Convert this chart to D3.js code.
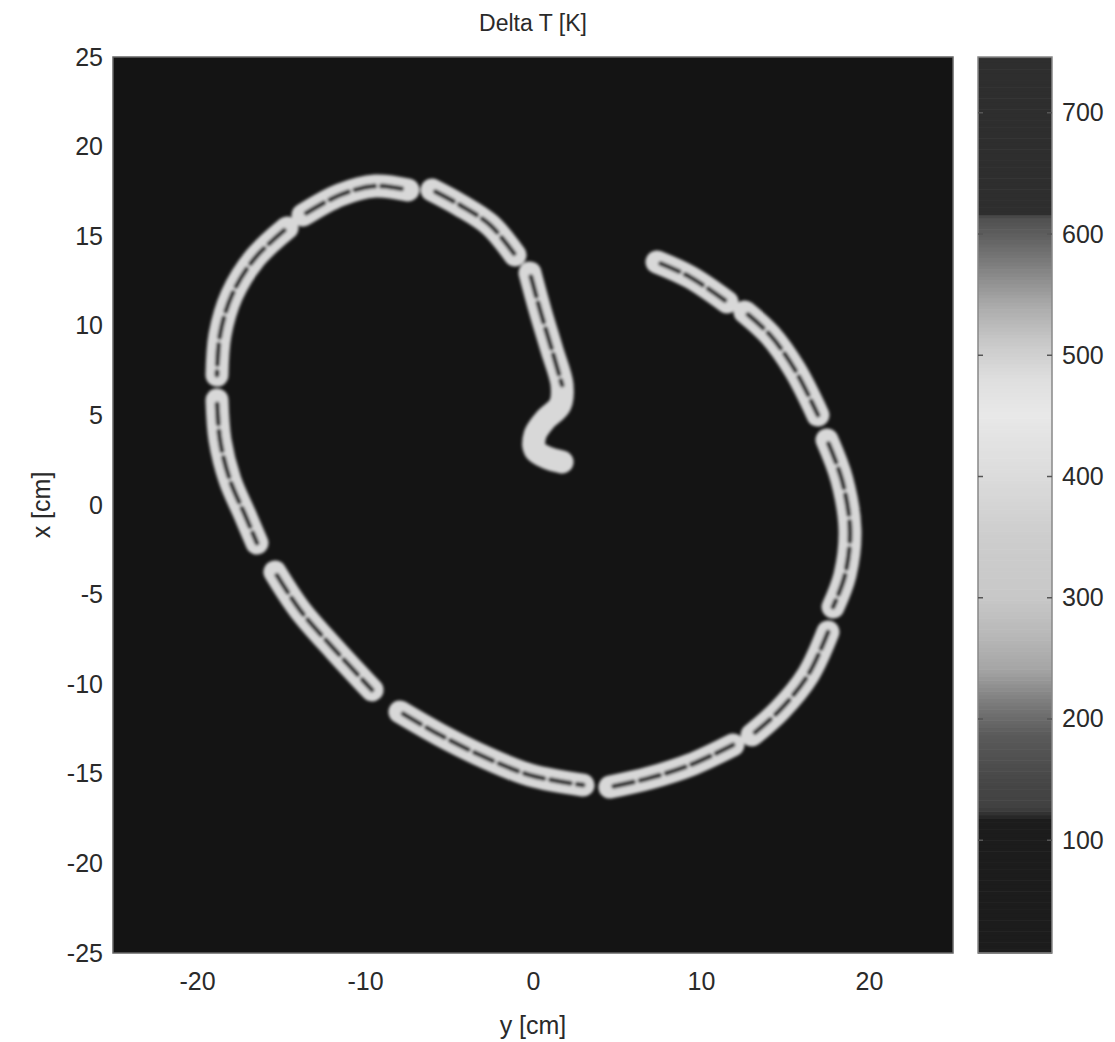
<!DOCTYPE html>
<html>
<head>
<meta charset="utf-8">
<script src="https://cdn.jsdelivr.net/npm/d3@7"></script>
<style>
  body { margin: 0; background: #fff; }
  text { font-family: "Liberation Sans", Arial, sans-serif; fill: #2a2a2a; }
</style>
</head>
<body>
<div id="chart"></div>
<script>
// Axis ticks (cm)
var xTicks = [-20, -10, 0, 10, 20];
var yTicks = [25, 20, 15, 10, 5, 0, -5, -10, -15, -20, -25];
var cbTicks = [100, 200, 300, 400, 500, 600, 700];
var cbDomain = [7, 746];

// Colormap stops: [Delta T, gray level]
var cmapValues = [7, 115, 125, 150, 185, 210, 240, 270, 300, 350, 400, 450, 480, 510, 540, 570, 600, 612, 616, 746];
var cmapGray   = [28, 28, 64, 72, 90, 120, 165, 185, 200, 205, 220, 232, 222, 200, 170, 130, 92, 80, 46, 46];

// Spiral segments, points as [y cm, x cm]
var seg1  = [[-0.18, 12.95], [0.42, 10.88], [1.13, 8.65], [1.73, 6.70], [1.61, 5.58], [0.71, 4.74], [0.12, 3.91], [0.12, 3.07], [0.89, 2.62], [1.73, 2.40]];
var seg2  = [[-6.01, 17.58], [-4.35, 16.74], [-2.56, 15.63], [-1.07, 13.95]];
var seg3  = [[-13.69, 16.18], [-11.49, 17.30], [-9.40, 17.80], [-7.44, 17.58]];
var seg4  = [[-14.64, 15.46], [-16.55, 13.78], [-17.92, 11.72], [-18.63, 9.49], [-18.81, 7.25]];
var seg5  = [[-18.81, 5.86], [-18.63, 3.63], [-18.04, 1.40], [-17.14, -0.56], [-16.43, -2.12]];
var seg6  = [[-15.36, -3.74], [-13.87, -5.86], [-11.79, -8.09], [-9.58, -10.32]];
var seg7  = [[-7.92, -11.55], [-5.54, -12.83], [-3.15, -13.95], [-0.18, -15.07], [2.98, -15.63]];
var seg8  = [[4.58, -15.74], [6.96, -15.23], [9.35, -14.51], [11.90, -13.39]];
var seg9  = [[13.04, -12.83], [14.70, -11.44], [16.37, -9.49], [17.56, -7.09]];
var seg10 = [[17.50, 3.63], [18.39, 1.40], [18.87, -1.40], [18.57, -3.91], [17.86, -5.69]];
var seg11 = [[12.62, 10.77], [14.11, 9.49], [15.60, 7.53], [16.96, 5.02]];
var seg12 = [[7.38, 13.56], [9.35, 12.72], [11.55, 11.33]];
var segments = [seg1, seg2, seg3, seg4, seg5, seg6, seg7, seg8, seg9, seg10, seg11, seg12];
// how many leading points of each segment carry the dark dashed core
var coreLength = [4, 4, 4, 5, 5, 4, 5, 4, 4, 5, 4, 3];

var width = 1115, height = 1042;
var plot = { left: 113, right: 953, top: 57, bottom: 953 };
var cb = { left: 978, right: 1052 };
var fontSize = "25px";

var svg = d3.select("#chart").append("svg")
  .attr("width", width)
  .attr("height", height);

var defs = svg.append("defs");
defs.append("filter").attr("id", "soft")
  .attr("x", "-10%").attr("y", "-10%").attr("width", "120%").attr("height", "120%")
  .append("feGaussianBlur").attr("stdDeviation", 1.7);
defs.append("clipPath").attr("id", "plotclip")
  .append("rect")
  .attr("x", plot.left).attr("y", plot.top)
  .attr("width", plot.right - plot.left).attr("height", plot.bottom - plot.top);

var xScale = d3.scaleLinear().domain([-25, 25]).range([plot.left, plot.right]);
var yScale = d3.scaleLinear().domain([-25, 25]).range([plot.bottom, plot.top]);

// background = lowest colour of the map
svg.append("rect")
  .attr("x", plot.left).attr("y", plot.top)
  .attr("width", plot.right - plot.left).attr("height", plot.bottom - plot.top)
  .attr("fill", "#141414");

var line = d3.line()
  .x(d => xScale(d[0]))
  .y(d => yScale(d[1]))
  .curve(d3.curveCatmullRom.alpha(0.5));

var g = svg.append("g").attr("clip-path", "url(#plotclip)")
  .append("g").attr("filter", "url(#soft)");

g.selectAll("path.outer")
  .data(segments)
  .enter().append("path")
  .attr("class", "outer")
  .attr("d", line)
  .attr("fill", "none")
  .attr("stroke", "#d8d8d8")
  .attr("stroke-width", 23)
  .attr("stroke-linecap", "round")
  .attr("stroke-linejoin", "round");

g.selectAll("path.core")
  .data(segments)
  .enter().append("path")
  .attr("class", "core")
  .attr("d", (d, i) => line(d.slice(0, coreLength[i])))
  .attr("fill", "none")
  .attr("stroke", "#333")
  .attr("stroke-width", 5)
  .attr("stroke-dasharray", "20 7")
  .attr("stroke-dashoffset", -4)
  .attr("stroke-linecap", "round");

// plot frame
svg.append("rect")
  .attr("x", plot.left).attr("y", plot.top)
  .attr("width", plot.right - plot.left).attr("height", plot.bottom - plot.top)
  .attr("fill", "none").attr("stroke", "#666").attr("stroke-width", 1.5);

var fmt = d => String(d);

// axes
var xAxis = d3.axisBottom(xScale).tickValues(xTicks).tickSize(0).tickPadding(19).tickFormat(fmt);
var gx = svg.append("g").attr("transform", "translate(0," + plot.bottom + ")").call(xAxis);
gx.select(".domain").remove();
gx.selectAll("text").style("font-size", fontSize);

var yAxis = d3.axisLeft(yScale).tickValues(yTicks).tickSize(0).tickPadding(10).tickFormat(fmt);
var gy = svg.append("g").attr("transform", "translate(" + plot.left + ",0)").call(yAxis);
gy.select(".domain").remove();
gy.selectAll("text").style("font-size", fontSize);

// titles
svg.append("text").attr("x", 533).attr("y", 31).attr("text-anchor", "middle")
  .style("font-size", "23px").text("Delta T [K]");
svg.append("text").attr("x", 533).attr("y", 1034).attr("text-anchor", "middle")
  .style("font-size", fontSize).text("y [cm]");
svg.append("text").attr("transform", "translate(50,505) rotate(-90)").attr("text-anchor", "middle")
  .style("font-size", fontSize).text("x [cm]");

// colorbar
var cScale = d3.scaleLinear().domain(cbDomain).range([plot.bottom, plot.top]);
var grayScale = d3.scaleLinear().domain(cmapValues).range(cmapGray).clamp(true);
var steps = d3.range(cbDomain[0], cbDomain[1], 3);
svg.append("g").selectAll("rect")
  .data(steps)
  .enter().append("rect")
  .attr("x", cb.left)
  .attr("width", cb.right - cb.left)
  .attr("y", d => cScale(Math.min(d + 3, cbDomain[1])))
  .attr("height", d => cScale(d) - cScale(Math.min(d + 3, cbDomain[1])) + 0.6)
  .attr("fill", d => { var v = Math.round(grayScale(d)); return d3.rgb(v, v, v); });

svg.append("rect")
  .attr("x", cb.left).attr("y", plot.top)
  .attr("width", cb.right - cb.left).attr("height", plot.bottom - plot.top)
  .attr("fill", "none").attr("stroke", "#888").attr("stroke-width", 1.5);

var cbAxis = d3.axisRight(cScale).tickValues(cbTicks).tickSize(0).tickPadding(10).tickFormat(fmt);
var gc = svg.append("g").attr("transform", "translate(" + cb.right + ",0)").call(cbAxis);
gc.select(".domain").remove();
gc.selectAll("text").style("font-size", fontSize);

// small inner tick marks on both sides of the colorbar
var tickG = svg.append("g");
tickG.selectAll("line.l").data(cbTicks).enter().append("line")
  .attr("x1", cb.left).attr("x2", cb.left + 5)
  .attr("y1", d => cScale(d)).attr("y2", d => cScale(d))
  .attr("stroke", "#555").attr("stroke-width", 1.5);
tickG.selectAll("line.r").data(cbTicks).enter().append("line")
  .attr("x1", cb.right - 5).attr("x2", cb.right)
  .attr("y1", d => cScale(d)).attr("y2", d => cScale(d))
  .attr("stroke", "#555").attr("stroke-width", 1.5);
</script>
</body>
</html>
